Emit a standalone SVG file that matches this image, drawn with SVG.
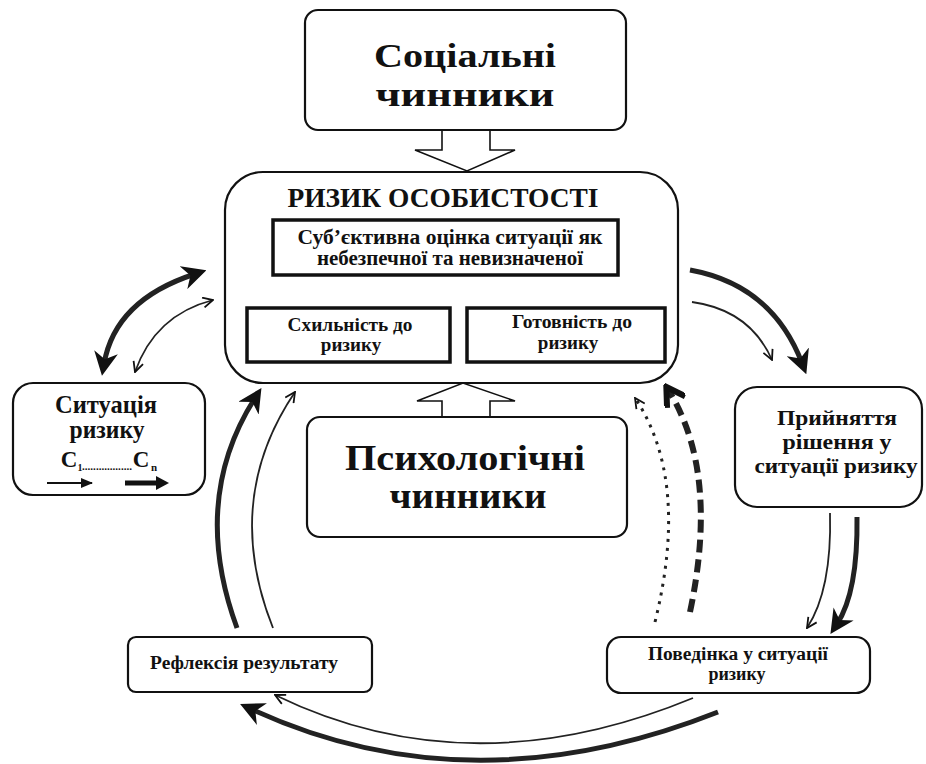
<svg xmlns="http://www.w3.org/2000/svg" width="926" height="764" viewBox="0 0 926 764">
<style>
  .box{fill:#fff;stroke:#111;stroke-width:2.2}
  .inner{fill:#fff;stroke:#111;stroke-width:3.5}
  .hollow{fill:#fff;stroke:#111;stroke-width:1.6;stroke-linejoin:miter}
  text{font-family:"Liberation Serif","Times New Roman",serif;font-weight:bold;fill:#111;text-anchor:middle}
  .thick{fill:none;stroke:#222;stroke-width:5}
  .thin{fill:none;stroke:#222;stroke-width:1.8}
  .dash{fill:none;stroke:#222;stroke-width:6;stroke-dasharray:13 7}
  .dot{fill:none;stroke:#222;stroke-width:3;stroke-dasharray:3 6}
</style>
<defs>
  <marker id="hThick" markerUnits="userSpaceOnUse" markerWidth="24" markerHeight="24" viewBox="0 0 20 20" refX="10" refY="10" orient="auto-start-reverse">
    <path d="M0,0 L20,10 L0,20 L6,10 z" fill="#111"/>
  </marker>
  <marker id="hThin" markerUnits="userSpaceOnUse" markerWidth="12" markerHeight="12" viewBox="0 0 12 12" refX="11" refY="6" orient="auto-start-reverse">
    <path d="M1,1 L11,6 L1,11" fill="none" stroke="#111" stroke-width="1.8"/>
  </marker>
  <marker id="hDash" markerUnits="userSpaceOnUse" markerWidth="24" markerHeight="24" viewBox="0 0 20 20" refX="16" refY="10" orient="auto">
    <path d="M2,1 L17,10 L2,19" fill="none" stroke="#111" stroke-width="5"/>
  </marker>
  <marker id="hSmall" markerUnits="userSpaceOnUse" markerWidth="12" markerHeight="12" viewBox="0 0 12 12" refX="11" refY="6" orient="auto">
    <path d="M0,1 L12,6 L0,11 z" fill="#111"/>
  </marker>
</defs>

<g id="connectors">
  <polygon class="hollow" points="442,130 442,150 415,150 467,171 515,150 490,150 490,130"/>
  <polygon class="hollow" points="442,417 442,401 417,401 463,383 515,401 490,401 490,417"/>
  <path class="thick" d="M104,364 Q115,300 195,274" marker-start="url(#hThick)" marker-end="url(#hThick)"/>
  <path class="thin" d="M135,372 Q155,315 213,300" marker-start="url(#hThin)" marker-end="url(#hThin)"/>
  <path class="thick" d="M690,270 Q772,285 802,363" marker-end="url(#hThick)"/>
  <path class="thin" d="M692,302 Q750,310 772,360" marker-end="url(#hThin)"/>
  <path class="thin" d="M830,513 Q832,590 807,628" marker-end="url(#hThin)"/>
  <path class="thick" d="M857,517 Q858,592 837,624" marker-end="url(#hThick)"/>
  <path class="thin" d="M693,698 Q470,790 275,695" marker-end="url(#hThin)"/>
  <path class="thick" d="M718,712 Q470,810 251,709" marker-end="url(#hThick)"/>
  <path class="thick" d="M237,628 Q190,500 255,398" marker-end="url(#hThick)"/>
  <path class="thin" d="M273,628 Q222,500 295,392" marker-end="url(#hThin)"/>
  <path class="dot" d="M655,622 Q690,480 635,398" marker-end="url(#hThin)"/>
  <path class="dash" d="M690,612 Q720,470 667,388" marker-end="url(#hDash)"/>
  <line x1="348" y1="302" x2="395" y2="278" stroke="#222" stroke-width="2" marker-end="url(#hSmall)"/>
  <line x1="537" y1="302" x2="490" y2="280" stroke="#222" stroke-width="2" marker-end="url(#hSmall)"/>
</g>

<g id="social">
  <rect class="box" x="305" y="10" width="321" height="120" rx="13"/>
  <text x="465" y="67" font-size="33" textLength="182" lengthAdjust="spacingAndGlyphs">Соціальні</text>
  <text x="465" y="106" font-size="33" textLength="179" lengthAdjust="spacingAndGlyphs">чинники</text>
</g>

<g id="risk">
  <rect class="box" x="225" y="172" width="453" height="211" rx="38"/>
  <text x="443" y="207" font-size="28" textLength="311" lengthAdjust="spacingAndGlyphs">РИЗИК ОСОБИСТОСТІ</text>
</g>

<g id="assessment">
  <rect class="inner" x="273" y="220" width="345" height="55"/>
  <text x="450" y="244" font-size="20" textLength="305" lengthAdjust="spacingAndGlyphs">Суб’єктивна оцінка ситуації як</text>
  <text x="450" y="265" font-size="20" textLength="266" lengthAdjust="spacingAndGlyphs">небезпечної та невизначеної</text>
</g>

<g id="propensity">
  <rect class="inner" x="247" y="308" width="203" height="54"/>
  <text x="350" y="331" font-size="19" textLength="125" lengthAdjust="spacingAndGlyphs">Схильність до</text>
  <text x="351" y="351" font-size="19">ризику</text>
</g>

<g id="readiness">
  <rect class="inner" x="467" y="308" width="198" height="54"/>
  <text x="572" y="328" font-size="19" textLength="120" lengthAdjust="spacingAndGlyphs">Готовність до</text>
  <text x="568" y="349" font-size="19">ризику</text>
</g>

<g id="psychological">
  <rect class="box" x="307" y="417" width="320" height="120" rx="13"/>
  <text x="465" y="470" font-size="35" textLength="240" lengthAdjust="spacingAndGlyphs">Психологічні</text>
  <text x="468" y="508" font-size="35" textLength="157" lengthAdjust="spacingAndGlyphs">чинники</text>
</g>

<g id="situation">
  <rect class="box" x="13" y="383" width="192" height="112" rx="20"/>
  <text x="106" y="413" font-size="25" textLength="102" lengthAdjust="spacingAndGlyphs">Ситуація</text>
  <text x="107" y="438" font-size="25" textLength="75" lengthAdjust="spacingAndGlyphs">ризику</text>
  <text x="69" y="467" font-size="23">C</text>
  <text x="80" y="471" font-size="10">1</text>
  <text x="107" y="470" font-size="10" textLength="50" lengthAdjust="spacingAndGlyphs">..................</text>
  <text x="141" y="467" font-size="23">C</text>
  <text x="154" y="471" font-size="11">n</text>
  <line x1="47" y1="483" x2="92" y2="483" stroke="#111" stroke-width="2" marker-end="url(#hSmall)"/>
  <line x1="125" y1="483" x2="160" y2="483" stroke="#111" stroke-width="5"/>
  <polygon points="156,476 169,483 156,490" fill="#111"/>
</g>

<g id="decision">
  <rect class="box" x="735" y="387" width="187" height="120" rx="22"/>
  <text x="837" y="425" font-size="22" textLength="120" lengthAdjust="spacingAndGlyphs">Прийняття</text>
  <text x="837" y="449" font-size="22" textLength="109" lengthAdjust="spacingAndGlyphs">рішення у</text>
  <text x="836" y="473" font-size="22" textLength="163" lengthAdjust="spacingAndGlyphs">ситуації ризику</text>
</g>

<g id="behaviour">
  <rect class="box" x="607" y="637" width="263" height="56" rx="14"/>
  <text x="738" y="660" font-size="18" textLength="180" lengthAdjust="spacingAndGlyphs">Поведінка у ситуації</text>
  <text x="737" y="680" font-size="18">ризику</text>
</g>

<g id="reflection">
  <rect class="box" x="128" y="637" width="244" height="55" rx="8"/>
  <text x="244" y="669" font-size="18" textLength="188" lengthAdjust="spacingAndGlyphs">Рефлексія результату</text>
</g>
</svg>
